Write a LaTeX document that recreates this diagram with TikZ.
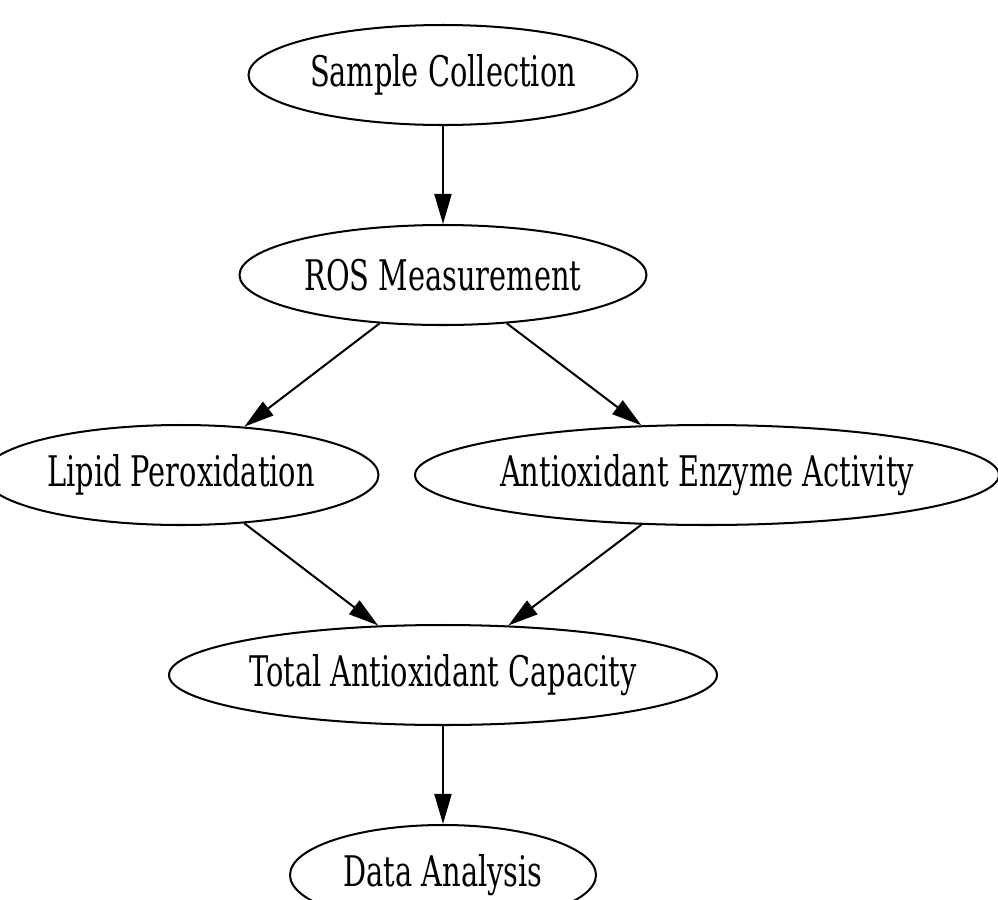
\documentclass[tikz,border=0pt]{standalone}
\usepackage{fontspec}
\newfontfamily\stepfont{DejaVu Serif Condensed}[FakeStretch=0.76]
\usetikzlibrary{shapes.geometric,arrows.meta}

\tikzset{
    stage/.style={draw, ellipse, line width=1.15pt, minimum height=2cm, inner sep=0pt, inner xsep=-3cm,
        font=\stepfont\fontsize{24}{27}\selectfont},
    flow/.style={-{Triangle[length=0.6cm, width=0.34cm]}, line width=1.15pt}
}

\begin{document}
\begin{tikzpicture}
    \useasboundingbox (0,0) rectangle (19.96,-18);

    \node[stage, minimum width=7.78cm] (S) at (8.86,-1.5) {Sample Collection};
    \node[stage, minimum width=8.14cm] (R) at (8.86,-5.5) {ROS Measurement};
    
    \node[stage, minimum width=7.9cm] (L) at (3.62,-9.5) {Lipid Peroxidation};
    \node[stage, minimum width=11.68cm] (E) at (14.14,-9.5) {Antioxidant Enzyme Activity};

    \node[stage, minimum width=10.96cm] (T) at (8.86,-13.5) {Total Antioxidant Capacity};
    \node[stage, minimum width=6.12cm] (D) at (8.86,-17.5) {Data Analysis};

    \draw[flow] (S) -- (R);
    \draw[flow] (R) -- (L);
    \draw[flow] (R) -- (E);
    \draw[flow] (L) -- (T);
    \draw[flow] (E) -- (T);
    \draw[flow] (T) -- (D);
\end{tikzpicture}
\end{document}
